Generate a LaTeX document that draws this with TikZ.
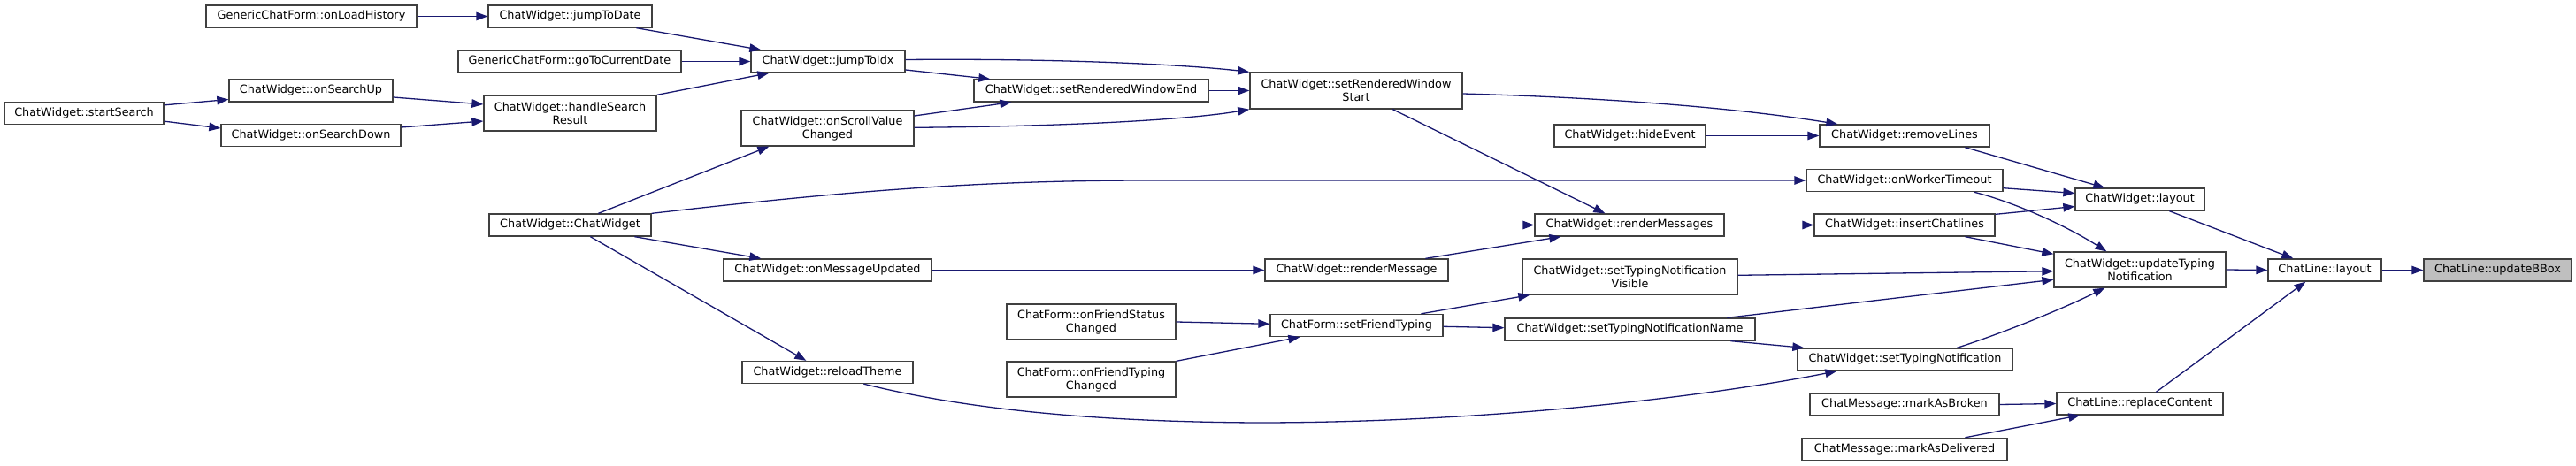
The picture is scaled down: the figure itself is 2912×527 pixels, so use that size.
\documentclass[tikz,border=0pt]{standalone}
\usepackage{fontspec}
\setmainfont{DejaVu Sans}
\usetikzlibrary{arrows.meta,calc}
\definecolor{edgeblue}{HTML}{191970}
\definecolor{boxgray}{HTML}{404040}
\definecolor{rootgray}{HTML}{BFBFBF}
\newcommand\fnt{\fontsize{12.8pt}{15pt}\selectfont}
\tikzset{
  box/.style={draw=boxgray, line width=1.3pt, fill=white, inner sep=0pt, font=\fnt, text=black},
  one/.style={box, text height=9.6pt, text depth=2.8pt, minimum height=25pt},
  two/.style={box, align=center, minimum height=40pt},
  root/.style={one, fill=rootgray},
  conn/.style={draw=edgeblue, line width=1.3pt, -{Triangle[length=13pt,width=9.5pt]}}
}
\begin{document}
\begin{tikzpicture}[x=1pt,y=-1pt]
\useasboundingbox (0,0) rectangle (2912,527);
% nodes
\node[one, minimum width=238pt] (onLoadHistory) at (352,18.5) {GenericChatForm::onLoadHistory};
\node[one, minimum width=185pt] (jumpToDate) at (644.5,18.5) {ChatWidget::jumpToDate};
\node[one, minimum width=252pt] (goToCurrentDate) at (644,69.5) {GenericChatForm::goToCurrentDate};
\node[one, minimum width=174pt] (jumpToIdx) at (936,69.5) {ChatWidget::jumpToIdx};
\node[one, minimum width=185pt] (onSearchUp) at (351.5,102.5) {ChatWidget::onSearchUp};
\node[one, minimum width=180pt] (startSearch) at (95,128) {ChatWidget::startSearch};
\node[one, minimum width=203pt] (onSearchDown) at (351.5,153) {ChatWidget::onSearchDown};
\node[two, minimum width=195pt] (handleSearch) at (644.5,128) {ChatWidget::handleSearch\\Result};
\node[two, minimum width=195pt] (onScroll) at (935.5,145) {ChatWidget::onScrollValue\\Changed};
\node[one, minimum width=265pt] (setRWEnd) at (1233.5,102.5) {ChatWidget::setRenderedWindowEnd};
\node[two, minimum width=240pt, minimum height=41pt] (setRWStart) at (1533,102.5) {ChatWidget::setRenderedWindow\\Start};
\node[one, minimum width=183pt] (ctor) at (644.5,254.5) {ChatWidget::ChatWidget};
\node[one, minimum width=235pt] (onMsgUpd) at (935.5,305.5) {ChatWidget::onMessageUpdated};
\node[one, minimum width=193pt] (reloadTheme) at (935.5,421) {ChatWidget::reloadTheme};
\node[one, minimum width=207pt] (renderMessage) at (1533.5,305.5) {ChatWidget::renderMessage};
\node[two, minimum width=191pt] (onFriendStatus) at (1233.5,364) {ChatForm::onFriendStatus\\Changed};
\node[two, minimum width=191pt] (onFriendTyping) at (1233.5,429) {ChatForm::onFriendTyping\\Changed};
\node[one, minimum width=195pt] (setFriendTyping) at (1533.5,368) {ChatForm::setFriendTyping};
\node[one, minimum width=171pt] (hideEvent) at (1842.5,153.5) {ChatWidget::hideEvent};
\node[one, minimum width=214pt] (renderMessages) at (1842,254.5) {ChatWidget::renderMessages};
\node[two, minimum width=243pt] (setTNVisible) at (1842.5,313) {ChatWidget::setTypingNotification\\Visible};
\node[one, minimum width=283pt] (setTNName) at (1842.5,372.5) {ChatWidget::setTypingNotificationName};
\node[one, minimum width=192pt] (removeLines) at (2153,153.5) {ChatWidget::removeLines};
\node[one, minimum width=222pt] (onWorkerTimeout) at (2153,204) {ChatWidget::onWorkerTimeout};
\node[one, minimum width=204pt] (insertChatlines) at (2153,254.5) {ChatWidget::insertChatlines};
\node[one, minimum width=243pt] (setTN) at (2153.5,406.5) {ChatWidget::setTypingNotification};
\node[one, minimum width=214pt] (markAsBroken) at (2153,457.5) {ChatMessage::markAsBroken};
\node[one, minimum width=232pt] (markAsDelivered) at (2153,508) {ChatMessage::markAsDelivered};
\node[one, minimum width=146pt] (cwLayout) at (2419,225.5) {ChatWidget::layout};
\node[two, minimum width=194pt] (updateTN) at (2419,305) {ChatWidget::updateTyping\\Notification};
\node[one, minimum width=188pt] (replaceContent) at (2419,456.5) {ChatLine::replaceContent};
\node[one, minimum width=128pt] (clLayout) at (2628,305.5) {ChatLine::layout};
\node[root, minimum width=167pt] (updateBBox) at (2823.5,305.5) {ChatLine::updateBBox};
% edges
\draw[conn] (onLoadHistory.east) -- (jumpToDate.west);
\draw[conn] ($(jumpToDate.south west)+(168,0)$) -- ($(jumpToIdx.north west)+(12,0)$);
\draw[conn] (goToCurrentDate.east) -- (jumpToIdx.west);
\draw[conn] (handleSearch.north east) -- ($(jumpToIdx.south west)+(21,0)$);
\draw[conn] ($(startSearch.north east)+(0,4)$) -- ($(onSearchUp.west)+(0,10)$);
\draw[conn] ($(startSearch.south east)+(0,-4)$) -- ($(onSearchDown.west)+(0,-8)$);
\draw[conn] ($(onSearchUp.east)+(0,7.5)$) -- ($(handleSearch.west)+(0,-10)$);
\draw[conn] ($(onSearchDown.east)+(0,-9)$) -- ($(handleSearch.west)+(0,9)$);
\draw[conn] ($(jumpToIdx.east)+(0,-2)$) .. controls (1180,66) and (1330,72) .. (setRWStart.north west);
\draw[conn] ($(jumpToIdx.east)+(0,9.5)$) -- ($(setRWEnd.north west)+(19,0)$);
\draw[conn] ($(onScroll.east)+(0,-14)$) -- ($(setRWEnd.south west)+(43,0)$);
\draw[conn] ($(onScroll.east)+(0,-0.7)$) .. controls (1200,143) and (1340,136) .. (setRWStart.south west);
\draw[conn] (setRWEnd.east) -- (setRWStart.west);
\draw[conn] ($(ctor.north west)+(124,0)$) -- ($(onScroll.south west)+(32,0)$);
\draw[conn] (ctor.north east) .. controls (950,217) and (1100,204) .. (1300,204) -- (onWorkerTimeout.west);
\draw[conn] (ctor.east) -- (renderMessages.west);
\draw[conn] ($(ctor.south west)+(165,0)$) -- ($(onMsgUpd.north west)+(43,0)$);
\draw[conn] ($(ctor.south west)+(115,0)$) -- ($(reloadTheme.north west)+(73,0)$);
\draw[conn] ($(setRWStart.east)+(0,3.5)$) .. controls (1800,110) and (1950,120) .. ($(removeLines.north west)+(21,0)$);
\draw[conn] ($(setRWStart.south west)+(162,0)$) -- ($(renderMessages.north west)+(80,0)$);
\draw[conn] (hideEvent.east) -- (removeLines.west);
\draw[conn] (onMsgUpd.east) -- (renderMessage.west);
\draw[conn] ($(renderMessage.north west)+(182,0)$) -- ($(renderMessages.south west)+(30,0)$);
\draw[conn] (renderMessages.east) -- (insertChatlines.west);
\draw[conn] ($(removeLines.south west)+(165,0)$) -- ($(cwLayout.north west)+(34,0)$);
\draw[conn] ($(onWorkerTimeout.east)+(0,8.7)$) -- ($(cwLayout.west)+(0,-7)$);
\draw[conn] ($(onWorkerTimeout.south west)+(190,0)$) .. controls (2282,230) and (2340,258) .. ($(updateTN.north west)+(60,0)$);
\draw[conn] ($(insertChatlines.north east)+(0,1)$) -- ($(cwLayout.west)+(0,8)$);
\draw[conn] ($(insertChatlines.south west)+(171,0)$) -- ($(updateTN.west)+(0,-17.7)$);
\draw[conn] ($(setTNVisible.east)+(0,-1.7)$) -- ($(updateTN.west)+(0,1.7)$);
\draw[conn] ($(setTNName.north west)+(252,0)$) -- ($(updateTN.west)+(0,11.3)$);
\draw[conn] ($(setTNName.south west)+(256,0)$) -- ($(setTN.north west)+(8,0)$);
\draw[conn] ($(setTN.north west)+(181,0)$) .. controls (2263,377) and (2330,350) .. ($(updateTN.south west)+(58,0)$);
\draw[conn] ($(reloadTheme.south west)+(138,0)$) .. controls (1100,465) and (1250,477) .. (1420,478) .. controls (1700,478) and (1950,445) .. ($(setTN.south west)+(45,0)$);
\draw[conn] (onFriendStatus.east) -- ($(setFriendTyping.west)+(0,-1.7)$);
\draw[conn] (onFriendTyping.north east) -- ($(setFriendTyping.south west)+(34,0)$);
\draw[conn] ($(setFriendTyping.north west)+(171,0)$) -- ($(setTNVisible.south west)+(9,0)$);
\draw[conn] ($(setFriendTyping.east)+(0,1.3)$) -- ($(setTNName.west)+(0,-1.8)$);
\draw[conn] (markAsBroken.east) -- (replaceContent.west);
\draw[conn] ($(markAsDelivered.north west)+(185,0)$) -- ($(replaceContent.south west)+(27,0)$);
\draw[conn] ($(replaceContent.north west)+(113,0)$) -- ($(clLayout.south west)+(43,0)$);
\draw[conn] ($(cwLayout.south west)+(107,0)$) -- ($(clLayout.north west)+(29,0)$);
\draw[conn] (updateTN.east) -- (clLayout.west);
\draw[conn] (clLayout.east) -- (updateBBox.west);
\end{tikzpicture}
\end{document}
